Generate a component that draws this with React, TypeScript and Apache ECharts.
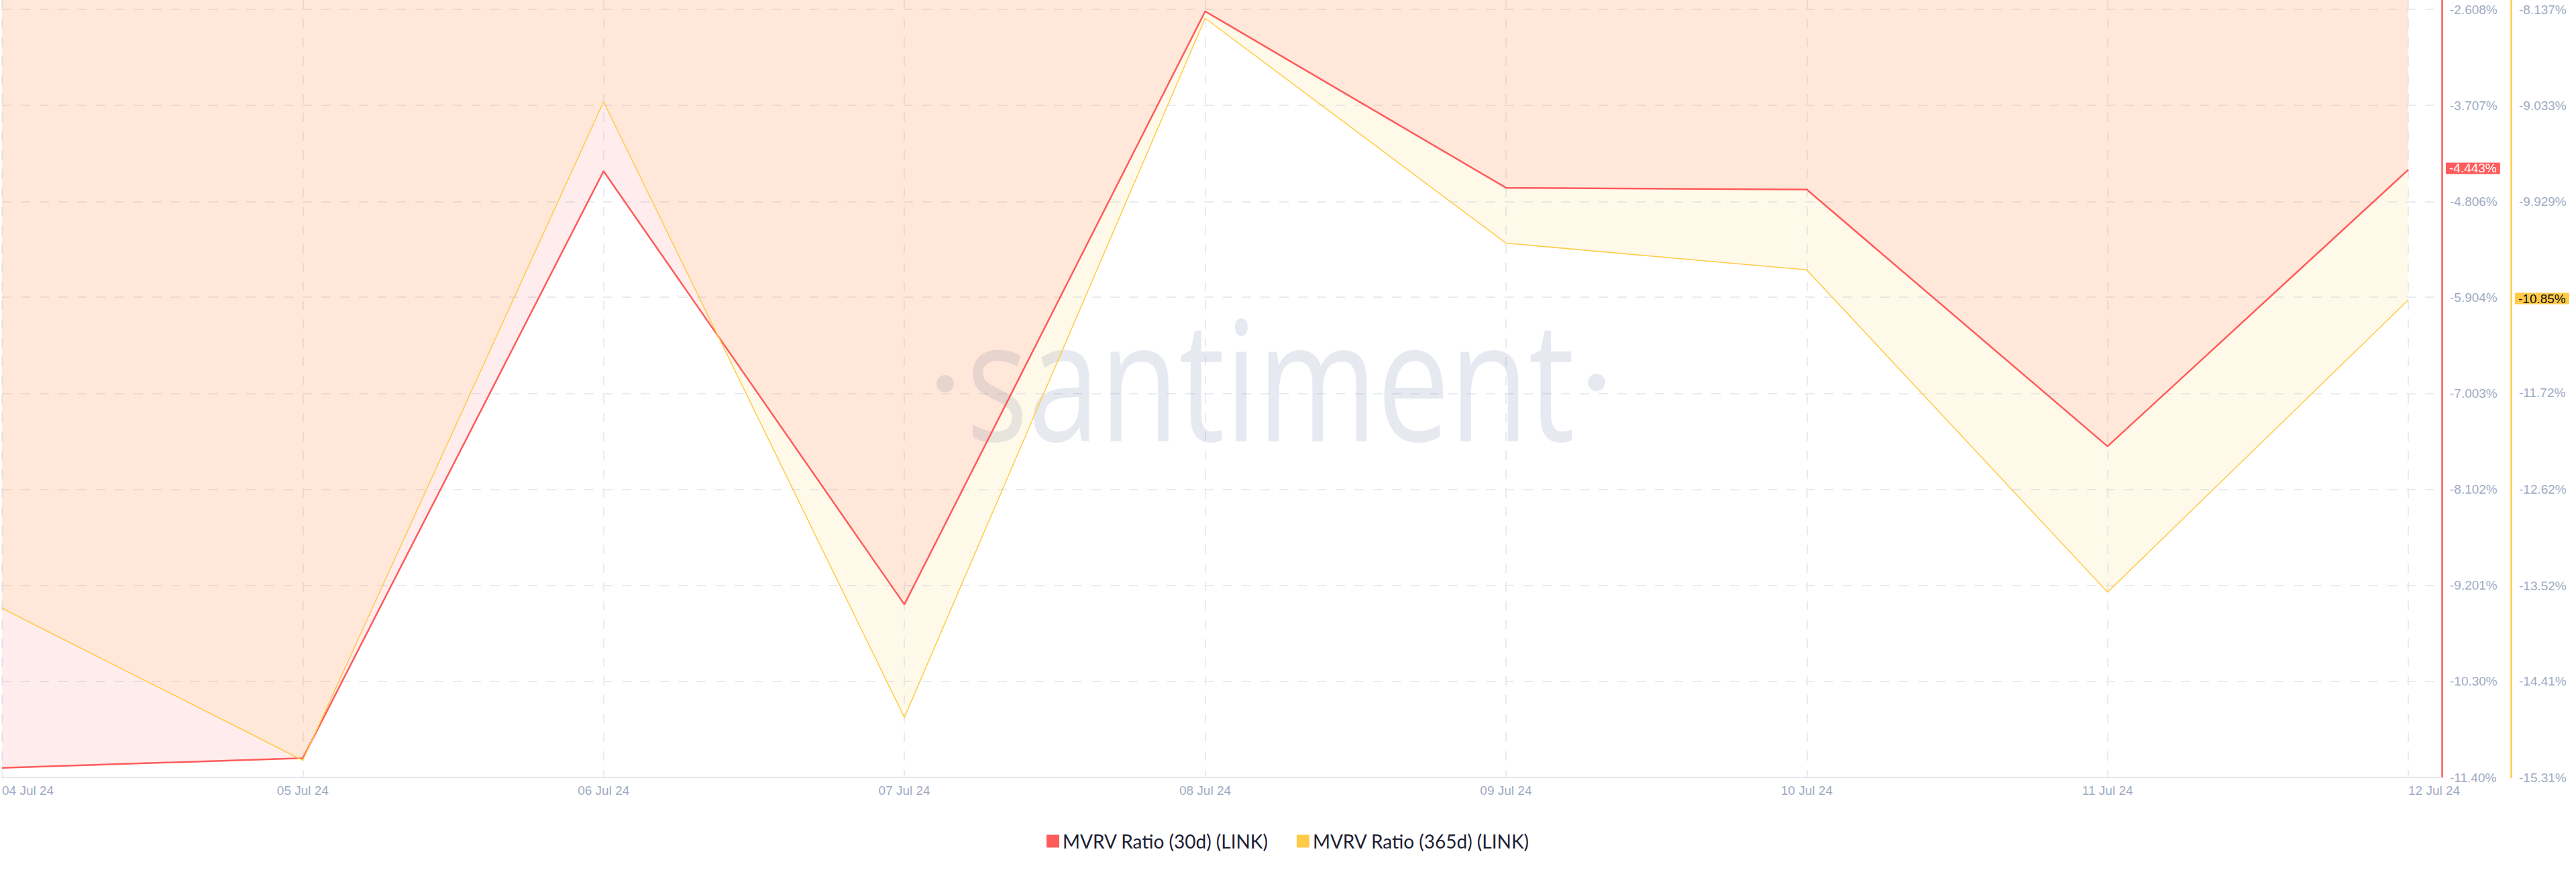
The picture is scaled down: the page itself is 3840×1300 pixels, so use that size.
import React, { useEffect, useRef } from 'react';
import * as echarts from 'echarts';

// ---- data ----
const dates = ['04 Jul 24', '05 Jul 24', '06 Jul 24', '07 Jul 24', '08 Jul 24', '09 Jul 24', '10 Jul 24', '11 Jul 24', '12 Jul 24'];
const mvrv30d = [-11.29, -11.18, -4.46, -9.42, -2.63, -4.65, -4.67, -7.61, -4.443];
const mvrv365d = [-13.73, -15.15, -9.0, -14.75, -8.22, -10.32, -10.57, -13.58, -10.85];
const ticks30d = [-2.608, -3.707, -4.806, -5.904, -7.003, -8.102, -9.201, -10.3, -11.4];
const ticks365d = [-8.137, -9.033, -9.929, -11.72, -12.62, -13.52, -14.41, -15.31];
const name30d = 'MVRV Ratio (30d) (LINK)';
const name365d = 'MVRV Ratio (365d) (LINK)';

const RED = '#ff5b5b';
const YELLOW = '#ffcb47';
const LABEL = '#9faac4';
const GRIDLINE = '#e8ebf2';
const FONT = '"Liberation Sans", Arial, sans-serif';

const SPLITS = 8;
const TOP_PAD = 14 / 143.125; // fraction of one split above the top tick
const X_PAD = 50 / 448.75; // fraction of a day after the last point

export default function App() {
  const ref = useRef<HTMLDivElement>(null);

  useEffect(() => {
    document.body.style.margin = '0';
    if (!ref.current) return;
    const chart = echarts.init(ref.current, undefined, { renderer: 'svg' });

    const top30 = ticks30d[0];
    const bot30 = ticks30d[ticks30d.length - 1];
    const step30 = (top30 - bot30) / SPLITS;
    const top365 = ticks365d[0];
    const bot365 = ticks365d[ticks365d.length - 1];
    const step365 = (top365 - bot365) / SPLITS;

    const last30 = mvrv30d[mvrv30d.length - 1];
    const last365 = mvrv365d[mvrv365d.length - 1];

    const xIdx = dates.map((_, i) => i);
    const d30 = mvrv30d.map((v, i) => [i, v]);
    const d365 = mvrv365d.map((v, i) => [i, v]);

    const dash = { color: GRIDLINE, width: 2, type: [14, 14] as any };

    chart.setOption({
      animation: false,
      backgroundColor: '#ffffff',
      grid: { left: 0, right: 200, top: 0, bottom: 141, containLabel: false },
      xAxis: {
        type: 'value',
        min: 0,
        max: dates.length - 1 + X_PAD,
        interval: 1,
        axisLine: { show: true, onZero: false, lineStyle: { color: '#e3e7ef', width: 2 } },
        axisTick: { show: false, customValues: xIdx },
        axisLabel: {
          customValues: xIdx,
          color: LABEL,
          fontFamily: FONT,
          fontSize: 19,
          margin: 10,
          alignMinLabel: 'left',
          alignMaxLabel: 'left',
          formatter: (v: number) => dates[Math.round(v)] ?? '',
        },
        splitLine: { show: true, lineStyle: dash },
      },
      yAxis: [
        {
          type: 'value',
          position: 'right',
          min: bot30,
          max: top30 + step30 * TOP_PAD,
          axisLine: { show: true, onZero: false, lineStyle: { color: RED, width: 2.5 } },
          axisTick: { show: false, customValues: ticks30d },
          axisLabel: {
            customValues: ticks30d,
            color: LABEL,
            fontFamily: FONT,
            fontSize: 19,
            margin: 12,
            formatter: (v: number) => v.toPrecision(4) + '%',
          },
          splitLine: { show: true, lineStyle: dash },
          axisPointer: {
            show: true,
            type: 'line',
            value: last30,
            status: 'show',
            snap: false,
            triggerTooltip: false,
            lineStyle: { opacity: 0, width: 0 },
            label: {
              show: true,
              margin: 6,
              backgroundColor: RED,
              color: '#ffffff',
              fontFamily: FONT,
              fontSize: 19,
              lineHeight: 15,
              padding: [1, 5],
              borderRadius: 0,
              shadowBlur: 0,
              formatter: (p: any) => Number(p.value).toFixed(3) + '%',
            },
          },
        },
        {
          type: 'value',
          position: 'right',
          offset: 103,
          min: bot365,
          max: top365 + step365 * TOP_PAD,
          axisLine: { show: true, onZero: false, lineStyle: { color: YELLOW, width: 2.5 } },
          axisTick: { show: false, customValues: ticks365d },
          axisLabel: {
            customValues: ticks365d,
            color: LABEL,
            fontFamily: FONT,
            fontSize: 19,
            margin: 12,
            formatter: (v: number) => v.toPrecision(4) + '%',
          },
          splitLine: { show: false },
          axisPointer: {
            show: true,
            type: 'line',
            value: last365,
            status: 'show',
            snap: false,
            triggerTooltip: false,
            lineStyle: { opacity: 0, width: 0 },
            label: {
              show: true,
              margin: 6,
              backgroundColor: YELLOW,
              color: '#111111',
              fontFamily: FONT,
              fontSize: 19,
              lineHeight: 15,
              padding: [1, 5],
              borderRadius: 0,
              shadowBlur: 0,
              formatter: (p: any) => Number(p.value).toPrecision(4) + '%',
            },
          },
        },
      ],
      legend: {
        top: 1235,
        left: 'center',
        icon: 'rect',
        itemWidth: 19,
        itemHeight: 19,
        itemGap: 42,
        selectedMode: false,
        textStyle: { color: '#1c2033', fontSize: 28, fontFamily: 'Lato, sans-serif' },
        data: [
          { name: name30d, itemStyle: { color: RED } },
          { name: name365d, itemStyle: { color: YELLOW } },
        ],
      },
      graphic: [
        {
          type: 'text',
          x: 1894,
          y: 561,
          scaleX: 0.77,
          z: 5,
          silent: true,
          style: {
            text: 'santiment',
            fontFamily: '"Open Sans"',
            fontSize: 250,
            fill: 'rgba(59,74,132,0.12)',
            align: 'center',
            verticalAlign: 'middle',
            textAlign: 'center',
            textVerticalAlign: 'middle',
          },
        },
        { type: 'circle', x: 1409, y: 572, z: 5, silent: true, shape: { r: 13 }, style: { fill: 'rgba(59,74,132,0.12)' } },
        { type: 'circle', x: 2380, y: 570, z: 5, silent: true, shape: { r: 13 }, style: { fill: 'rgba(59,74,132,0.12)' } },
      ],
      series: [
        {
          name: 'area30',
          type: 'line',
          yAxisIndex: 0,
          data: d30,
          z: 2,
          symbol: 'none',
          lineStyle: { width: 0, opacity: 0 },
          areaStyle: { origin: 'end', color: 'rgba(255,91,91,0.16)' },
          silent: true,
        },
        {
          name: 'area365',
          type: 'line',
          yAxisIndex: 1,
          data: d365,
          z: 2,
          symbol: 'none',
          lineStyle: { width: 0, opacity: 0 },
          areaStyle: { origin: 'end', color: 'rgba(255,203,71,0.16)' },
          silent: true,
        },
        {
          name: name30d,
          type: 'line',
          yAxisIndex: 0,
          data: d30,
          z: 10,
          symbol: 'none',
          color: RED,
          lineStyle: { width: 2.5, color: RED },
        },
        {
          name: name365d,
          type: 'line',
          yAxisIndex: 1,
          data: d365,
          z: 10,
          symbol: 'none',
          color: YELLOW,
          lineStyle: { width: 1.5, color: YELLOW },
        },
      ],
    });

    return () => chart.dispose();
  }, []);

  return <div ref={ref} style={{ width: 3840, height: 1300 }} />;
}
